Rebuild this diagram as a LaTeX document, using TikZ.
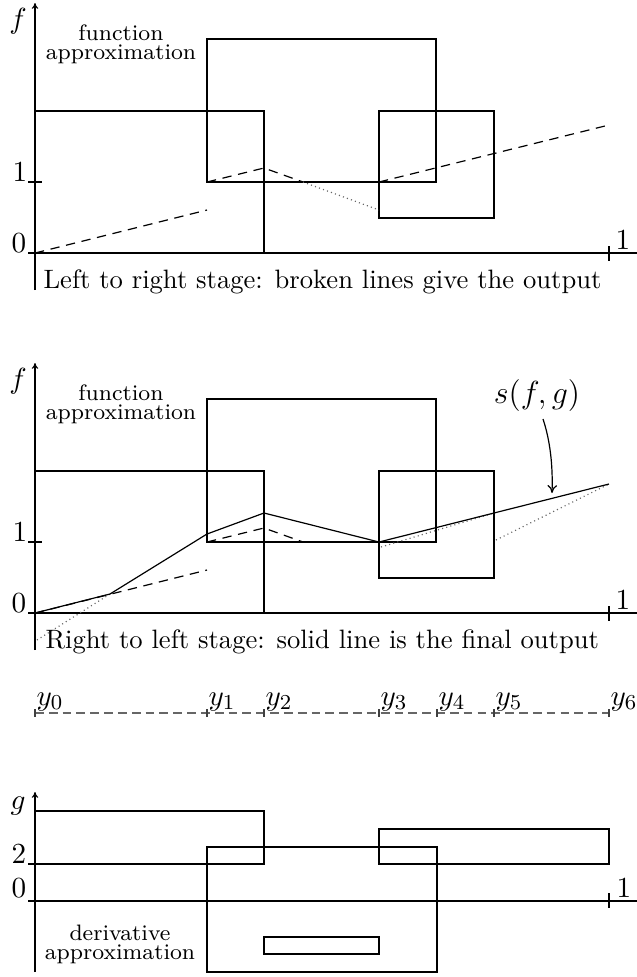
\documentclass[tikz,border=0pt]{standalone}
\usetikzlibrary{arrows.meta}
\begin{document}
\begin{tikzpicture}[x=0.376pt,y=-0.376pt,line width=0.45pt,
  lbl/.style={inner sep=0pt,font=\fontsize{11}{13}\selectfont},
  smalltext/.style={inner sep=0pt,align=center,font=\fontsize{8.4}{7.2}\selectfont},
  dsh/.style={dash pattern=on 3.5pt off 2.5pt},
  dtt/.style={dash pattern=on 0.4pt off 1.2pt,black!60},
  nl/.style={black!60,dash pattern=on 3.3pt off 1.9pt},
  axis/.style={-{To[length=2.2pt,width=2.4pt]}}]
\useasboundingbox (0,0) rectangle (637,977);

% ---------------- top panel ----------------
\coordinate (ta0) at (35,290); \coordinate (ta1) at (35,3);
\draw[axis] (ta0) -- (ta1);
\coordinate (tx0) at (28,253); \coordinate (tx1) at (637,253);
\draw (tx0) -- (tx1);
\coordinate (tk1a) at (609,246); \coordinate (tk1b) at (609,261);
\draw (tk1a) -- (tk1b);
\coordinate (ty1a) at (28,182); \coordinate (ty1b) at (42,182);
\draw (ty1a) -- (ty1b);
\node[lbl] (tf) at (18,21) {$f$};
\node[lbl] (tone) at (20,172) {$1$};
\node[lbl] (tzero) at (19,243) {$0$};
\node[lbl] (txone) at (623,240) {$1$};
\node[smalltext] (tfa) at (121,44) {function\\approximation};
\draw (35,111) rectangle (264,253);
\draw (207,39) rectangle (436,182);
\draw (379,111) rectangle (494,218);
\draw[dsh] (35,253) -- (207,210);
\draw[dsh] (207,182) -- (264,168) -- (303,182);
\draw[dtt] (303,182) -- (379,210);
\draw[dsh] (379,182) -- (609,125);
\node[inner sep=0pt,anchor=base west] (tcap) at (43,288) {Left to right stage: broken lines give the output};

% ---------------- middle panel ----------------
\coordinate (ma0) at (35,650); \coordinate (ma1) at (35,363);
\draw[axis] (ma0) -- (ma1);
\coordinate (mx0) at (28,613); \coordinate (mx1) at (637,613);
\draw (mx0) -- (mx1);
\coordinate (mk1a) at (609,606); \coordinate (mk1b) at (609,621);
\draw (mk1a) -- (mk1b);
\coordinate (my1a) at (28,542); \coordinate (my1b) at (42,542);
\draw (my1a) -- (my1b);
\node[lbl] (mf) at (18,381) {$f$};
\node[lbl] (mone) at (20,532) {$1$};
\node[lbl] (mzero) at (19,603) {$0$};
\node[lbl] (mxone) at (623,600) {$1$};
\node[smalltext] (mfa) at (121,404) {function\\approximation};
\draw (35,471) rectangle (264,613);
\draw (207,399) rectangle (436,542);
\draw (379,471) rectangle (494,578);
\draw[dsh] (35,613) -- (207,570);
\draw[dsh] (207,542) -- (264,528) -- (303,542) -- (379,542);
\draw[dtt] (37,640) -- (110,594);
\draw[dtt] (381,547) -- (494,513);
\draw[dtt] (496,540) -- (609,484);
\draw (35,613) -- (110,594) -- (207,534) -- (264,513) -- (379,542) -- (609,484);
\node[inner sep=0pt,anchor=base west] (mcap) at (45,648) {Right to left stage: solid line is the final output};
\node[inner sep=0pt,font=\fontsize{12}{14}\selectfont] (sfg) at (537,396) {$s(f,g)$};
\coordinate (sa) at (543,419); \coordinate (sb) at (552,493);
\draw[-{To[length=3pt,width=3.6pt]}] (sa) .. controls (550,440) and (553,465) .. (sb);

% ---------------- number line ----------------
\coordinate (n0) at (35,713); \coordinate (n6) at (609,713);
\draw[nl] (n0) -- (n6);
\foreach \xx/\ii in {35/0,207/1,264/2,379/3,437/4,494/5,609/6}{
  \draw[black!75] (\xx,709) -- (\xx,717);
  \node[lbl,anchor=base west] (ny\ii) at (\xx+1,705) {$y_{\ii}$};
}

% ---------------- bottom panel ----------------
\coordinate (ba0) at (35,972); \coordinate (ba1) at (35,792);
\draw[axis] (ba0) -- (ba1);
\coordinate (bx0) at (28,901); \coordinate (bx1) at (637,901);
\draw (bx0) -- (bx1);
\coordinate (bk1a) at (609,893); \coordinate (bk1b) at (609,908);
\draw (bk1a) -- (bk1b);
\coordinate (by2a) at (28,864); \coordinate (by2b) at (35,864);
\draw (by2a) -- (by2b);
\node[lbl] (bg) at (18,806) {$g$};
\node[lbl] (btwo) at (19,854) {$2$};
\node[lbl] (bzero) at (19,888) {$0$};
\node[lbl] (bxone) at (624,888) {$1$};
\draw (35,811) rectangle (264,864);
\draw (207,847) rectangle (437,972);
\draw (379,829) rectangle (609,864);
\draw (264,937) rectangle (379,954);
\node[smalltext] (bda) at (120,944) {derivative\\approximation};
\end{tikzpicture}
\end{document}
